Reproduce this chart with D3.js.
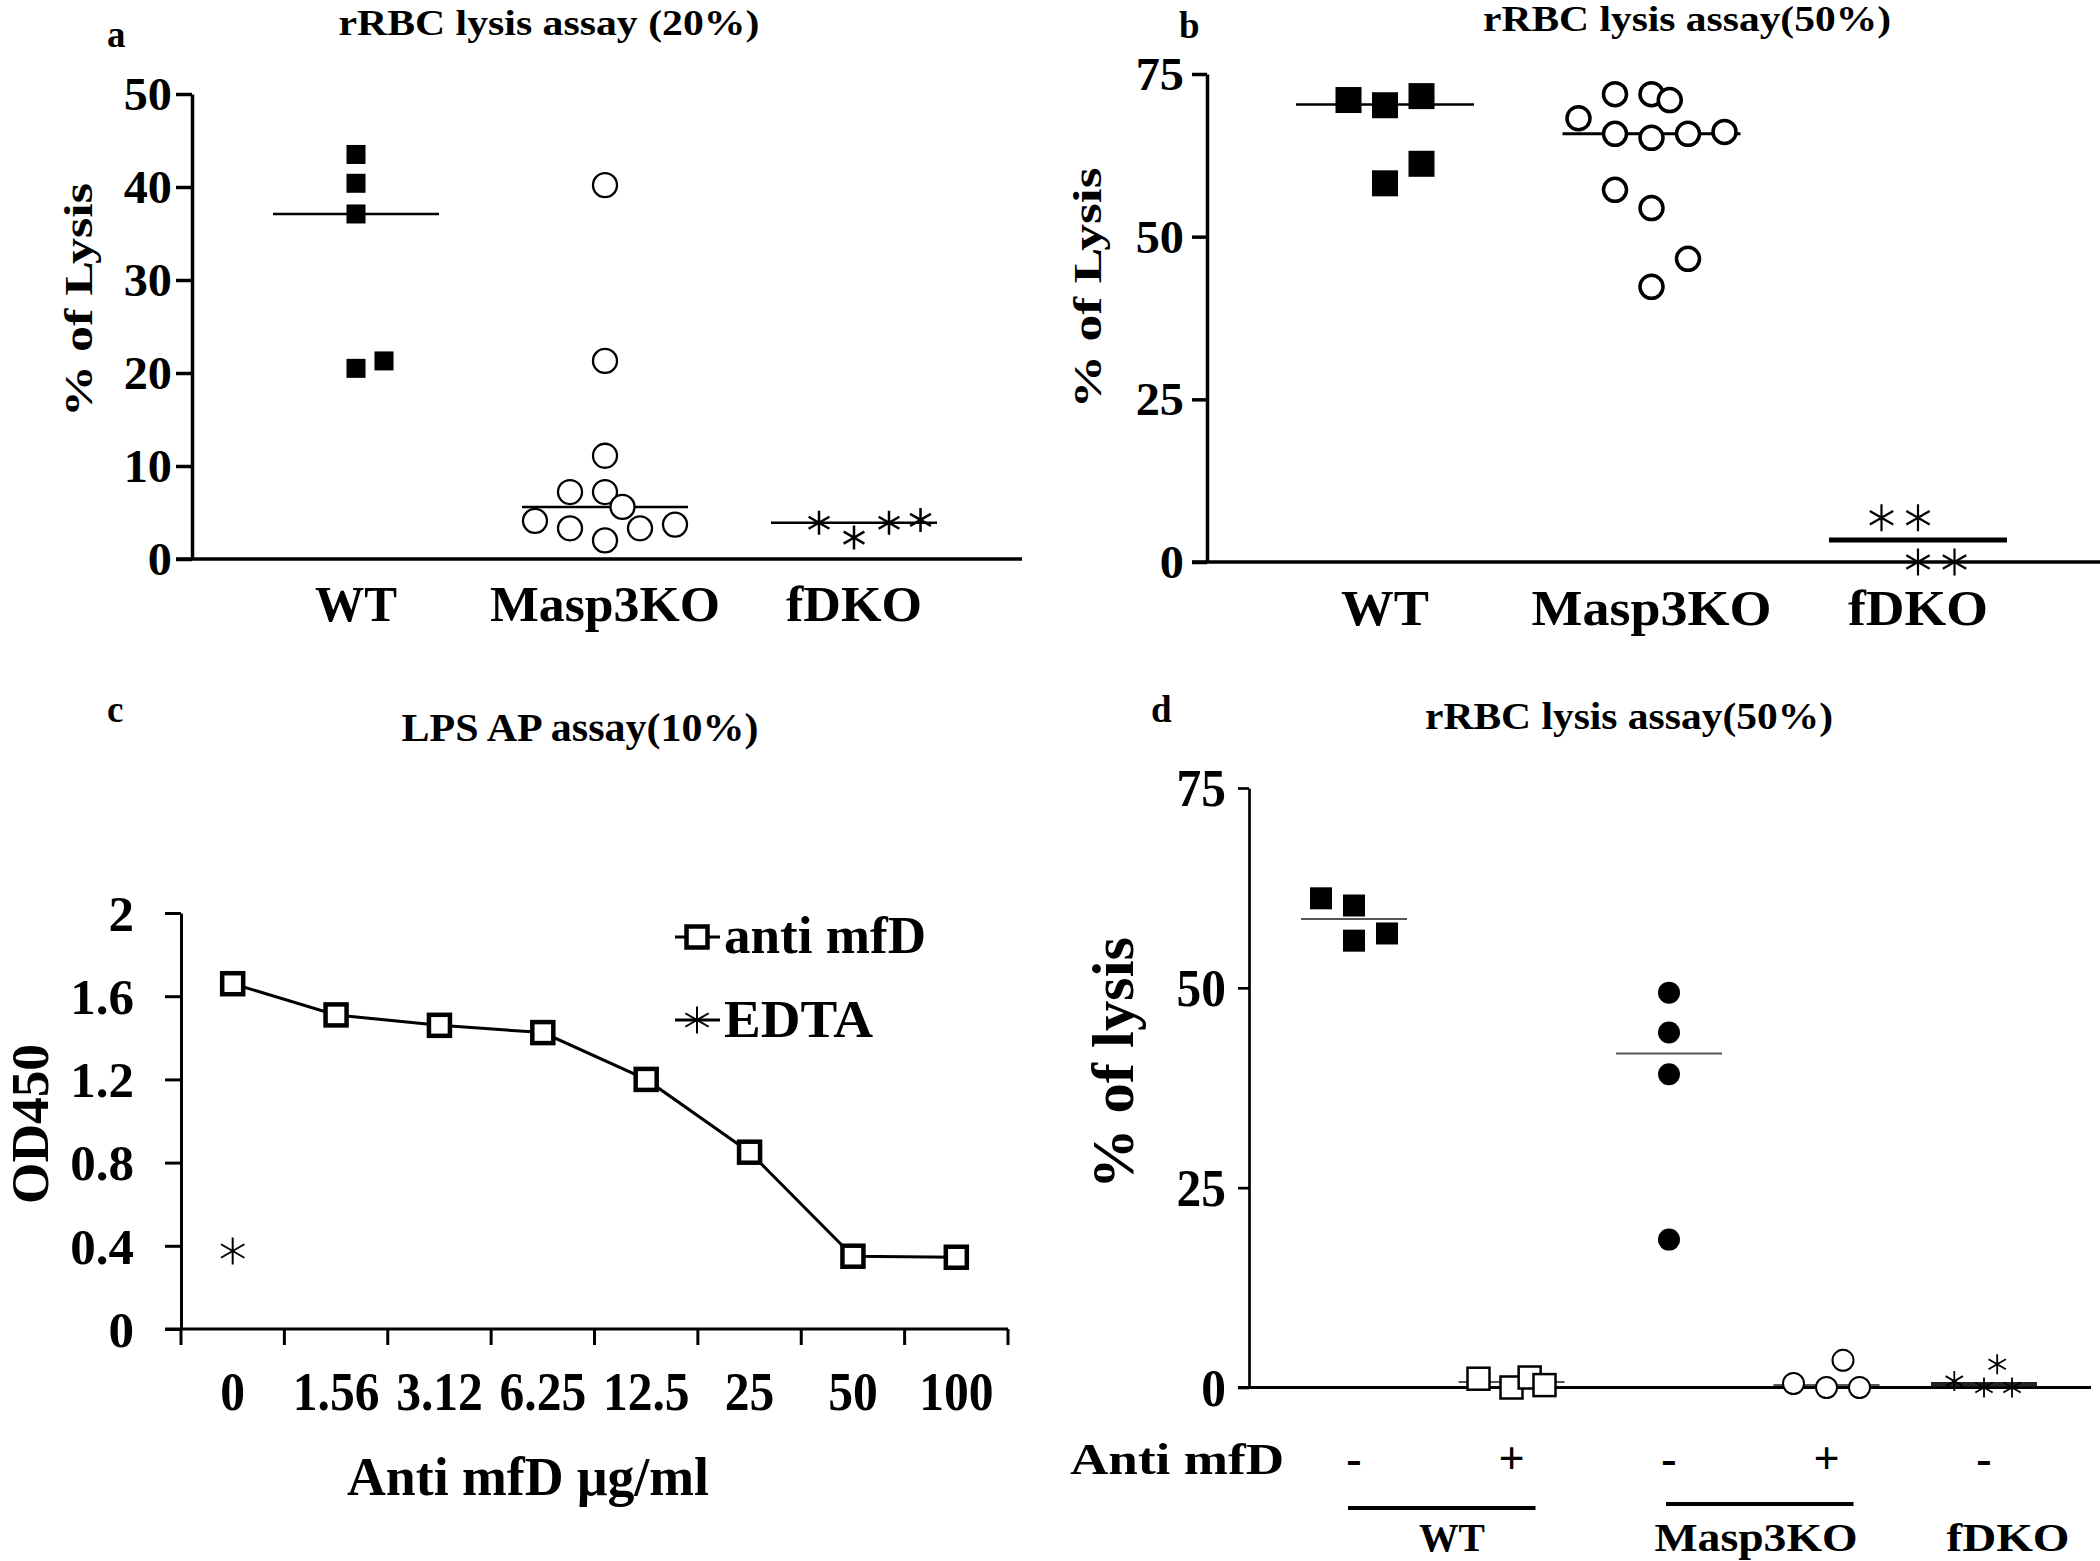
<!DOCTYPE html>
<html><head><meta charset="utf-8">
<script src="https://cdn.jsdelivr.net/npm/d3@7"></script>
<style>body{margin:0;background:#fff}</style>
</head><body>
<script>
// ================= DATA =================
// Panel a — rRBC lysis assay (20%)
const catsA = ["WT", "Masp3KO", "fDKO"];
const ticksA = [0, 10, 20, 30, 40, 50];
const aWT = [43.5, 40.4, 37.1, 20.5, 21.3];
const aWTSlot = [0, 0, 0, 0, 0.8];
const aMasp = [40.2, 21.3, 11.1, 7.2, 7.2, 5.6, 4.1, 3.3, 2.0, 3.3, 3.7];
const aMaspSlot = [0, 0, 0, -1, 0, 0.5, -2, -1, 0, 1, 2];
const aFdko = [3.9, 2.3, 3.9, 4.2];
const aFdkoSlot = [-1, 0, 1, 1.9];
const aMedian = [37.1, 5.6, 3.9];

// Panel b — rRBC lysis assay (50%)
const catsB = ["WT", "Masp3KO", "fDKO"];
const ticksB = [0, 25, 50, 75];
const bWT = [71.0, 70.2, 71.6, 61.2, 58.2];
const bWTSlot = [-1, 0, 1, 1, 0];
const bMasp = [71.9, 71.9, 71.0, 68.2, 65.8, 65.2, 65.8, 66.1, 57.2, 54.4, 46.6, 42.3];
const bMaspSlot = [-1, 0, 0.5, -2, -1, 0, 1, 2, -1, 0, 1, 0];
const bFdko = [6.8, 6.8, 0, 0];
const bFdkoSlot = [-1, 0, 0, 1];
const bMedian = [70.3, 65.8, 3.4];

// Panel c — LPS AP assay (10%)
const doses = ["0", "1.56", "3.12", "6.25", "12.5", "25", "50", "100"];
const ticksC = [0, 0.4, 0.8, 1.2, 1.6, 2];
const cAntiMfD = [1.66, 1.51, 1.46, 1.425, 1.20, 0.85, 0.35, 0.345];
const cEDTA = [0.375];           // measured at dose "0"
const legendC = ["anti mfD", "EDTA"];

// Panel d — rRBC lysis assay (50%)
const groupsD = ["WT-", "WT+", "Masp3KO-", "Masp3KO+", "fDKO-"];
const signsD = ["-", "+", "-", "+", "-"];
const genotypesD = ["WT", "Masp3KO", "fDKO"];
const ticksD = [0, 25, 50, 75];
const dWTneg = [61.2, 60.3, 55.9, 56.8];
const dWTnegSlot = [-1, 0, 0, 1];
const dWTpos = [1.1, 0, 1.25, 0.3];
const dWTposSlot = [-1, 0, 0.55, 1];
const dMaspNeg = [49.4, 44.4, 39.2, 18.5];
const dMaspNegSlot = [0, 0, 0, 0];
const dMaspPos = [0.5, 0, 3.4, 0];
const dMaspPosSlot = [-1, 0, 0.5, 1];
const dFdkoNeg = [0.8, 0, 2.9, 0];
const dFdkoNegSlot = [-0.9, 0, 0.4, 0.85];
const dMedian = [58.6, 0.7, 41.8, 0.3, 0.4];

// ================= SETUP =================
const W = 2100, H = 1561;
const FONT = "'Liberation Serif','Times New Roman',Times,serif";
const svg = d3.select("body").append("svg").attr("width", W).attr("height", H);
svg.append("rect").attr("width", W).attr("height", H).attr("fill", "#fff");

function stretch(sel, k) {
  sel.each(function () {
    const L = this.getComputedTextLength();
    this.setAttribute("textLength", L * k);
    this.setAttribute("lengthAdjust", "spacingAndGlyphs");
  });
}
function text(x, y, s, size, o = {}) {
  const t = svg.append("text").attr("x", x).attr("y", y).text(s)
    .attr("font-family", FONT).attr("font-weight", "bold").attr("font-size", size)
    .attr("text-anchor", o.anchor || "middle").attr("fill", "#000");
  if (o.rotate) t.attr("transform", `rotate(${o.rotate},${x},${y})`);
  if (o.width) t.attr("textLength", o.width).attr("lengthAdjust", "spacingAndGlyphs");
  return t;
}
function yAxis(scale, x, ticks, o) {
  const g = svg.append("g").attr("transform", `translate(${x},0)`)
    .call(d3.axisLeft(scale).tickValues(ticks).tickSize(o.tick).tickSizeOuter(0)
      .tickPadding(o.pad).tickFormat(d => String(d)));
  g.select(".domain").attr("stroke", "#000").attr("stroke-width", o.sw);
  g.selectAll(".tick line").attr("stroke", "#000").attr("stroke-width", o.sw);
  g.selectAll(".tick text").attr("font-family", FONT).attr("font-weight", "bold")
    .attr("font-size", o.fs).attr("fill", "#000").attr("dy", "0.34em");
  stretch(g.selectAll(".tick text"), o.k);
  return g;
}
function hline(x1, x2, y, sw, color = "#000") {
  svg.append("line").attr("x1", x1).attr("x2", x2).attr("y1", y).attr("y2", y)
    .attr("stroke", color).attr("stroke-width", sw);
}
function starPath(h) {
  const a = 0.866 * h, b = 0.5 * h;
  return `M0,${-h}V${h}M${-a},${-b}L${a},${b}M${-a},${b}L${a},${-b}`;
}
function points(vals, slots, cat, xs, ys, spacing, spec) {
  const data = vals.map((v, i) => ({ v, s: slots[i] }));
  const g = svg.append("g");
  const px = d => xs(cat) + d.s * spacing, py = d => ys(d.v);
  if (spec.shape === "square") {
    g.selectAll("rect").data(data).join("rect")
      .attr("x", d => px(d) - spec.size / 2).attr("y", d => py(d) - spec.size / 2)
      .attr("width", spec.size).attr("height", spec.size)
      .attr("fill", spec.fill).attr("stroke", spec.sw ? "#000" : "none").attr("stroke-width", spec.sw || 0);
  } else if (spec.shape === "circle") {
    g.selectAll("circle").data(data).join("circle")
      .attr("cx", px).attr("cy", py).attr("r", spec.size)
      .attr("fill", spec.fill).attr("stroke", spec.sw ? "#000" : "none").attr("stroke-width", spec.sw || 0);
  } else {
    g.selectAll("path").data(data).join("path")
      .attr("transform", d => `translate(${px(d)},${py(d)})`)
      .attr("d", starPath(spec.size)).attr("fill", "none")
      .attr("stroke", "#000").attr("stroke-width", spec.sw);
  }
}
function medians(vals, cats, xs, ys, half, widths, colors) {
  svg.append("g").selectAll("line").data(vals).join("line")
    .attr("x1", (d, i) => xs(cats[i]) - half).attr("x2", (d, i) => xs(cats[i]) + half)
    .attr("y1", d => ys(d)).attr("y2", d => ys(d))
    .attr("stroke", (d, i) => colors[i]).attr("stroke-width", (d, i) => widths[i]);
}

// ================= PANEL A =================
{
  const x = d3.scalePoint().domain(catsA).range([356, 854]);
  const y = d3.scaleLinear().domain([0, 50]).range([559, 94]);
  yAxis(y, 192, ticksA, { tick: 16, pad: 4, sw: 3.5, fs: 46, k: 1.05 });
  hline(176, 1022, y(0), 3.5);
  medians(aMedian, catsA, x, y, 83, [2.5, 2.5, 2.5], ["#000", "#000", "#000"]);
  points(aWT, aWTSlot, "WT", x, y, 35, { shape: "square", size: 19, fill: "#000" });
  points(aMasp, aMaspSlot, "Masp3KO", x, y, 35, { shape: "circle", size: 12, fill: "#fff", sw: 2.3 });
  points(aFdko, aFdkoSlot, "fDKO", x, y, 35, { shape: "star", size: 12, sw: 2.5 });
  const wA = { "WT": 82, "Masp3KO": 230, "fDKO": 136 };
  catsA.forEach(c => text(x(c), 621, c, 50, { width: wA[c] }));
  text(92, 300, "% of Lysis", 40, { rotate: -90, width: 234 });
  text(549, 35, "rRBC lysis assay (20%)", 35, { width: 421 });
  text(107, 47, "a", 37, { anchor: "start" });
}

// ================= PANEL B =================
{
  const x = d3.scalePoint().domain(catsB).range([1385, 1918]);
  const y = d3.scaleLinear().domain([0, 75]).range([562, 74]);
  yAxis(y, 1207, ticksB, { tick: 15, pad: 8, sw: 3.5, fs: 46, k: 1.05 });
  hline(1192, 2100, y(0), 3.5);
  medians(bMedian, catsB, x, y, 89, [2.5, 3, 5], ["#000", "#000", "#000"]);
  points(bWT, bWTSlot, "WT", x, y, 36.5, { shape: "square", size: 26, fill: "#000" });
  points(bMasp, bMaspSlot, "Masp3KO", x, y, 36.5, { shape: "circle", size: 11.5, fill: "#fff", sw: 3.5 });
  points(bFdko, bFdkoSlot, "fDKO", x, y, 36.5, { shape: "star", size: 13.5, sw: 2.2 });
  const wB = { "WT": 88, "Masp3KO": 240, "fDKO": 140 };
  catsB.forEach(c => text(x(c), 625, c, 50, { width: wB[c] }));
  text(1101, 288, "% of Lysis", 40, { rotate: -90, width: 241 });
  text(1687, 31, "rRBC lysis assay(50%)", 35, { width: 408 });
  text(1179, 38, "b", 37, { anchor: "start" });
}

// ================= PANEL C =================
{
  const x = d3.scaleBand().domain(doses).range([181, 1008]);
  const cx = d => x(d) + x.bandwidth() / 2;
  const y = d3.scaleLinear().domain([0, 2]).range([1329, 913]);
  yAxis(y, 181, ticksC, { tick: 16, pad: 31, sw: 3, fs: 51, k: 1.0 });
  hline(165, 1008, y(0), 3);
  // x ticks at band boundaries
  const bounds = doses.map(d => x(d)).concat([x.range()[1]]);
  svg.append("g").selectAll("line").data(bounds).join("line")
    .attr("x1", d => d).attr("x2", d => d).attr("y1", y(0)).attr("y2", y(0) + 16)
    .attr("stroke", "#000").attr("stroke-width", 3);
  const xl = svg.append("g").selectAll("text").data(doses).join("text")
    .attr("x", cx).attr("y", 1410).text(d => d)
    .attr("font-family", FONT).attr("font-weight", "bold").attr("font-size", 55)
    .attr("text-anchor", "middle");
  stretch(xl, 0.9);
  // line series
  const line = d3.line().x((d, i) => cx(doses[i])).y(d => y(d));
  svg.append("path").datum(cAntiMfD).attr("d", line).attr("fill", "none")
    .attr("stroke", "#000").attr("stroke-width", 3);
  svg.append("g").selectAll("rect").data(cAntiMfD).join("rect")
    .attr("x", (d, i) => cx(doses[i]) - 10.5).attr("y", d => y(d) - 10.5)
    .attr("width", 21).attr("height", 21).attr("fill", "#fff")
    .attr("stroke", "#000").attr("stroke-width", 4.5);
  svg.append("g").selectAll("path").data(cEDTA).join("path")
    .attr("transform", (d, i) => `translate(${cx(doses[i])},${y(d)})`)
    .attr("d", starPath(13.5)).attr("fill", "none").attr("stroke", "#000").attr("stroke-width", 2);
  // legend
  const legY = [937, 1020];
  legendC.forEach((name, i) => {
    hline(675, 720, legY[i], 3);
    if (i === 0) {
      svg.append("rect").attr("x", 697 - 10.5).attr("y", legY[i] - 10.5).attr("width", 21).attr("height", 21)
        .attr("fill", "#fff").attr("stroke", "#000").attr("stroke-width", 4.5);
    } else {
      svg.append("path").attr("transform", `translate(697,${legY[i]})`).attr("d", starPath(13.5))
        .attr("fill", "none").attr("stroke", "#000").attr("stroke-width", 2);
    }
  });
  text(724, 953, legendC[0], 52, { anchor: "start", width: 202 });
  text(724, 1037, legendC[1], 52, { anchor: "start", width: 149 });
  text(528, 1495, "Anti mfD \u03BCg/ml", 54, { width: 362 });
  text(48, 1124, "OD450", 52, { rotate: -90, width: 160 });
  text(580, 741, "LPS AP assay(10%)", 40, { width: 357 });
  text(107, 722, "c", 37, { anchor: "start" });
}

// ================= PANEL D =================
{
  const x = d3.scalePoint().domain(groupsD).range([1354, 1984]);
  const y = d3.scaleLinear().domain([0, 75]).range([1387.5, 788]);
  yAxis(y, 1249, ticksD, { tick: 11, pad: 12, sw: 2.7, fs: 52, k: 0.95 });
  hline(1238, 2091, y(0), 3);
  medians(dMedian, groupsD, x, y, 53, [2, 2, 2, 2, 4.5], ["#555", "#555", "#555", "#555", "#222"]);
  points(dWTneg, dWTnegSlot, "WT-", x, y, 33, { shape: "square", size: 22, fill: "#000" });
  points(dWTpos, dWTposSlot, "WT+", x, y, 33, { shape: "square", size: 22, fill: "#fff", sw: 2.5 });
  points(dMaspNeg, dMaspNegSlot, "Masp3KO-", x, y, 33, { shape: "circle", size: 11, fill: "#000" });
  points(dMaspPos, dMaspPosSlot, "Masp3KO+", x, y, 33, { shape: "circle", size: 10.5, fill: "#fff", sw: 2 });
  points(dFdkoNeg, dFdkoNegSlot, "fDKO-", x, y, 33, { shape: "star", size: 10, sw: 1.8 });
  // treatment row
  text(1070, 1474, "Anti mfD", 44, { anchor: "start", width: 214 });
  groupsD.forEach((gname, i) => text(x(gname), 1474, signsD[i], 46));
  // genotype brackets
  hline(x("WT-") - 6, x("WT+") + 24, 1508, 4);
  hline(x("Masp3KO-") - 3, x("Masp3KO+") + 27, 1504, 4);
  const labX = { "WT": 1452, "Masp3KO": 1756, "fDKO": 2008 };
  const labW = { "WT": 66, "Masp3KO": 203, "fDKO": 123 };
  genotypesD.forEach(gn => text(labX[gn], 1551, gn, 41, { width: labW[gn] }));
  text(1133, 1063, "% of lysis", 60, { rotate: -90, width: 252 });
  text(1629, 729, "rRBC lysis assay(50%)", 37, { width: 408 });
  text(1151, 722, "d", 37, { anchor: "start" });
}
</script>
</body></html>
